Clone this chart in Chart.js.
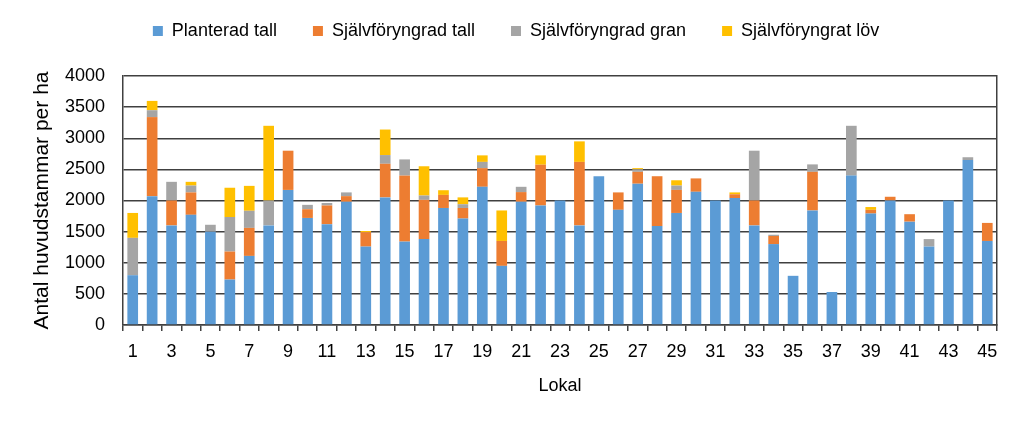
<!DOCTYPE html>
<html>
<head>
<meta charset="utf-8">
<script src="https://cdn.jsdelivr.net/npm/chart.js@4/dist/chart.umd.min.js"></script>
<style>
  html, body { margin: 0; padding: 0; background: #fff; }
  #wrap { width: 1023px; height: 427px; position: relative; }
</style>
</head>
<body>
<div id="wrap"><canvas id="canvas"></canvas></div>
<script>
// lokal 1..45
let lokal = [1,2,3,4,5,6,7,8,9,10,11,12,13,14,15,16,17,18,19,20,21,22,23,24,25,26,27,28,29,30,31,32,33,34,35,36,37,38,39,40,41,42,43,44,45];

// stammar per ha
let planteradTall = [800,2070,1600,1770,1500,730,1110,1600,2170,1720,1620,1980,1260,2050,1340,1380,1880,1710,2220,950,
    1980,1920,2000,1600,2390,1850,2270,1590,1800,2140,2000,2040,1600,1300,790,1840,530,2400,1790,2000,1660,1260,2000,2650,1350];
let sjalvTall = [0,1270,400,360,0,450,450,0,630,140,300,90,230,540,1060,630,210,170,300,400,
    155,655,0,1020,0,280,190,800,370,215,0,60,400,130,0,620,0,0,60,60,120,0,0,0,290];
let sjalvGran = [600,110,300,110,110,555,275,400,0,70,40,60,0,140,260,70,0,60,100,0,
    85,0,0,0,0,0,40,0,70,0,0,0,800,20,0,120,0,800,0,0,0,120,0,45,0];
let sjalvLov = [400,150,0,60,0,470,400,1200,0,0,0,0,20,410,0,470,75,110,105,490,
    0,150,0,330,0,0,20,0,85,0,0,30,0,0,0,0,0,0,45,0,0,0,0,0,0];

let seriesNames = ['Planterad tall','Självföryngrad tall','Självföryngrad gran','Självföryngrat löv'];
let colors = ['#5B9BD5','#ED7D31','#A5A5A5','#FFC000'];
let yTicks = [0,500,1000,1500,2000,2500,3000,3500,4000];

const fontFam = "'Liberation Sans', Arial, sans-serif";
const lineCol = '#404040';

// extra room under the legend, before the plot starts
const legendSpace = {
    id: 'legendSpace',
    beforeInit(chart){
        const lg = chart.legend;
        const fit = lg.fit;
        lg.fit = function(){ fit.call(this); this.height += 26; };
    }
};

let values = [planteradTall, sjalvTall, sjalvGran, sjalvLov];
let datasets = values.map((v, i) => ({
    label: seriesNames[i],
    data: v,
    backgroundColor: colors[i],
    borderWidth: 0,
    barPercentage: 0.55,
    categoryPercentage: 1
}));

var ctx = document.getElementById('canvas').getContext('2d');
let myChart = new Chart(ctx, {
    type: 'bar',
    data: { labels: lokal, datasets: datasets },
    options: {
        responsive: true,
        maintainAspectRatio: false,
        animation: false,
        layout: { padding: { top: -14, right: 0, bottom: 30, left: 9 } },
        plugins: {
            legend: {
                position: 'top',
                labels: {
                    boxWidth: 10, boxHeight: 10, padding: 36,
                    color: '#000',
                    font: { family: fontFam, size: 18 }
                }
            },
            tooltip: { enabled: false }
        },
        scales: {
            x: {
                stacked: true,
                afterFit: s => { s.height = 72; },
                grid: { drawOnChartArea: false, offset: true, tickLength: 6, color: lineCol, lineWidth: 1.5 },
                border: { color: lineCol, width: 1.5 },
                ticks: {
                    autoSkip: false, maxRotation: 0, color: '#000', padding: 10,
                    font: { family: fontFam, size: 18 },
                    callback: function(val, idx){ return idx % 2 === 0 ? this.getLabelForValue(val) : ''; }
                },
                title: { display: true, text: 'Lokal', color: '#000', font: { family: fontFam, size: 18 }, padding: { top: 4, bottom: 0 } }
            },
            y: {
                stacked: true,
                min: 0, max: 4000,
                afterFit: s => { s.width = 114; },
                afterBuildTicks: s => { s.ticks = yTicks.map(v => ({ value: v })); },
                grid: { color: lineCol, lineWidth: 1.5, drawTicks: false },
                border: { color: lineCol, width: 1.5 },
                ticks: { color: '#000', padding: 18, font: { family: fontFam, size: 18 }, callback: v => String(v) },
                title: { display: true, text: 'Antal huvudstammar per ha', color: '#000', font: { family: fontFam, size: 21 }, padding: { top: 21, bottom: 0 } }
            },
            y2: {
                position: 'right',
                min: 0, max: 4000,
                afterFit: s => { s.width = 26; },
                grid: { drawOnChartArea: false, drawTicks: false },
                border: { color: lineCol, width: 1.5 },
                ticks: { display: false }
            }
        }
    },
    plugins: [legendSpace]
});
</script>
</body>
</html>
